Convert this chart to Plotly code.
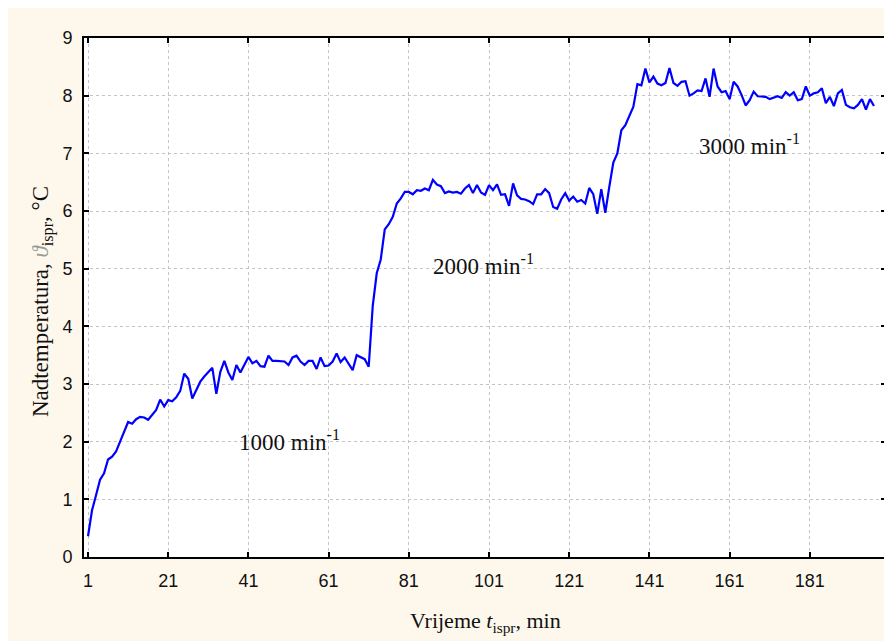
import plotly.graph_objects as go

# Overtemperature readings, one per minute
temp = [
    0.36, 0.81, 1.07, 1.34, 1.45, 1.69, 1.74, 1.83, 2.00, 2.17,
    2.34, 2.31, 2.39, 2.43, 2.42, 2.38, 2.46, 2.55, 2.73, 2.61,
    2.72, 2.70, 2.77, 2.88, 3.18, 3.09, 2.75, 2.90, 3.04, 3.13,
    3.20, 3.28, 2.83, 3.21, 3.40, 3.20, 3.07, 3.33, 3.20, 3.33,
    3.47, 3.36, 3.40, 3.31, 3.30, 3.49, 3.40, 3.40, 3.39, 3.39,
    3.33, 3.46, 3.49, 3.39, 3.33, 3.40, 3.40, 3.26, 3.46, 3.31,
    3.32, 3.39, 3.53, 3.38, 3.46, 3.35, 3.24, 3.50, 3.46, 3.43,
    3.30, 4.35, 4.92, 5.16, 5.68, 5.77, 5.90, 6.13, 6.22, 6.33,
    6.33, 6.29, 6.36, 6.35, 6.39, 6.36, 6.54, 6.46, 6.43, 6.31,
    6.34, 6.32, 6.33, 6.30, 6.39, 6.45, 6.31, 6.45, 6.32, 6.28,
    6.45, 6.36, 6.46, 6.28, 6.29, 6.09, 6.48, 6.27, 6.21, 6.20,
    6.17, 6.12, 6.29, 6.29, 6.38, 6.31, 6.07, 6.04, 6.20, 6.31,
    6.18, 6.25, 6.16, 6.19, 6.13, 6.40, 6.29, 5.95, 6.38, 5.97,
    6.42, 6.84, 7.00, 7.40, 7.49, 7.65, 7.81, 8.20, 8.18, 8.47,
    8.23, 8.33, 8.21, 8.18, 8.22, 8.48, 8.22, 8.17, 8.24, 8.25,
    8.00, 8.04, 8.09, 8.08, 8.30, 7.98, 8.47, 8.16, 8.06, 8.08,
    7.94, 8.24, 8.16, 8.01, 7.83, 7.92, 8.07, 7.99, 7.98, 7.98,
    7.94, 7.97, 7.99, 7.96, 8.06, 8.00, 8.06, 7.92, 7.94, 8.16,
    8.00, 8.04, 8.06, 8.13, 7.87, 7.98, 7.82, 8.04, 8.10, 7.84,
    7.80, 7.78, 7.84, 7.94, 7.76, 7.94, 7.82,
]
minutes = list(range(1, len(temp) + 1))

x_ticks = [1, 21, 41, 61, 81, 101, 121, 141, 161, 181]
y_ticks = [0, 1, 2, 3, 4, 5, 6, 7, 8, 9]

speed_labels = ["1000 min<sup>-1</sup>", "2000 min<sup>-1</sup>", "3000 min<sup>-1</sup>"]
speed_x = [51.3, 99.5, 166]
speed_y = [2.02, 5.07, 7.15]

CREAM = "#fef8ec"
tick_font = dict(family="Liberation Sans Narrow, Arial Narrow, Liberation Sans, Arial", size=18, color="#111")
serif = "Liberation Serif, Times New Roman, serif"

fig = go.Figure()
fig.add_trace(go.Scatter(
    x=minutes, y=temp, mode="lines",
    line=dict(color="#0000ff", width=2.2),
    showlegend=False, hoverinfo="x+y",
))

axis_common = dict(
    showline=True, linecolor="black", linewidth=2, mirror="ticks",
    ticks="inside", ticklen=5, tickwidth=2, tickcolor="black",
    showgrid=True, gridcolor="#c4c4c4", griddash="dot", gridwidth=1,
    zeroline=False, tickfont=tick_font,
)

fig.update_xaxes(range=[0, 200], tickvals=x_ticks, ticktext=[str(v) for v in x_ticks],
                 ticklabelstandoff=6, **axis_common)
fig.update_yaxes(range=[0, 9], tickvals=y_ticks, ticktext=[str(v) for v in y_ticks],
                 ticklabelstandoff=6, **axis_common)

annotations = []
for lab, ax, ay in zip(speed_labels, speed_x, speed_y):
    annotations.append(dict(x=ax, y=ay, xref="x", yref="y", text=lab, showarrow=False,
                            font=dict(family=serif, size=23, color="#111"),
                            xanchor="center", yanchor="middle"))

annotations.append(dict(x=0.5, y=-0.1252, xref="paper", yref="paper",
                        text="Vrijeme <i>t</i><sub>ispr</sub>, min", showarrow=False,
                        font=dict(family=serif, size=22, color="#111"),
                        xanchor="center", yanchor="middle"))
annotations.append(dict(x=-0.0524, y=0.493, xref="paper", yref="paper",
                        text="Nadtemperatura, <span style='color:#9a9a9a'><i>ϑ</i></span><sub>ispr</sub>, °C",
                        showarrow=False, textangle=-90,
                        font=dict(family=serif, size=23, color="#111"),
                        xanchor="center", yanchor="middle"))

fig.update_layout(
    width=892, height=641,
    margin=dict(l=76, r=14, t=30, b=92),
    paper_bgcolor=CREAM, plot_bgcolor="white",
    annotations=annotations,
    showlegend=False,
)

fig.write_html("out.html")
